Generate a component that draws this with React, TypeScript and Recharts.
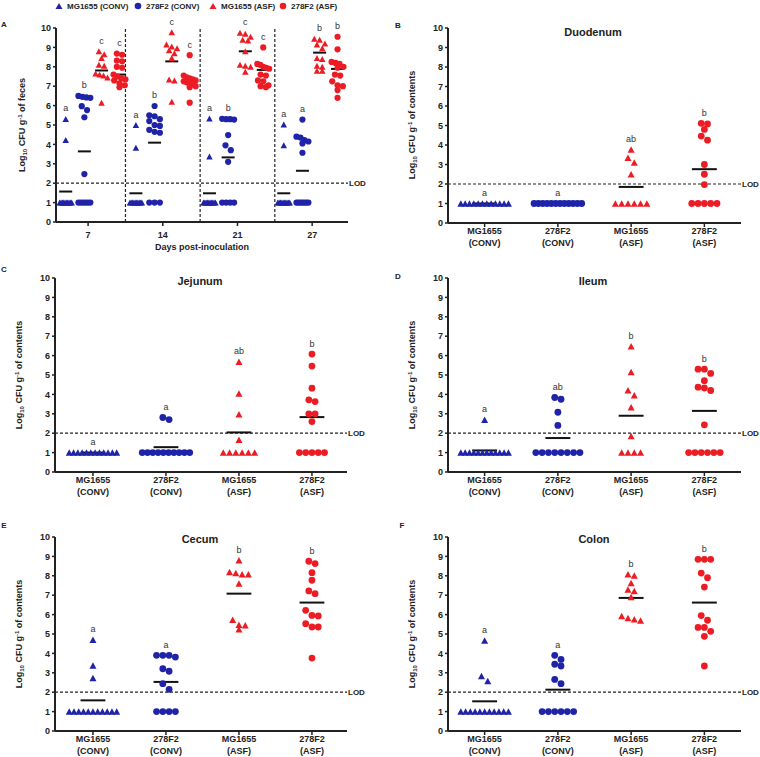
import React from 'react';
import { ScatterChart, Scatter, XAxis, YAxis, ReferenceLine } from 'recharts';

const BLUE = '#1f23a8';
const RED = '#ec1c24';
const INK = '#222';
const FONT = 'Arial, "Liberation Sans", Helvetica, sans-serif';

// ---------- labels ----------
const SERIES = ['MG1655 (CONV)', '278F2 (CONV)', 'MG1655 (ASF)', '278F2 (ASF)'];
const SERIES_COLOR = [BLUE, BLUE, RED, RED];
const SERIES_SHAPE = ['tri', 'circle', 'tri', 'circle'];
const CATEGORY_LINES = [['MG1655', '(CONV)'], ['278F2', '(CONV)'], ['MG1655', '(ASF)'], ['278F2', '(ASF)']];
const DAYS = ['7', '14', '21', '27'];
const Y_TICKS = [0, 1, 2, 3, 4, 5, 6, 7, 8, 9, 10];

// ---------- Panel A: feces, per day (7, 14, 21, 27) ----------
const feces_MG1655_CONV = [
  [5.31, 4.23, 1, 1, 1, 1, 1, 1, 1, 1, 1, 1],
  [5.0, 3.83, 1, 1, 1, 1, 1, 1, 1, 1, 1, 1],
  [5.34, 3.37, 1, 1, 1, 1, 1, 1, 1, 1, 1, 1],
  [5.03, 3.95, 1, 1, 1, 1, 1, 1, 1, 1, 1, 1],
];
const feces_278F2_CONV = [
  [6.5, 6.45, 6.42, 6.4, 5.97, 5.77, 5.4, 2.47, 1, 1, 1, 1, 1, 1],
  [5.98, 5.5, 5.45, 5.3, 5.2, 5.0, 4.95, 4.75, 4.65, 4.6, 1, 1, 1],
  [5.32, 5.3, 5.3, 5.28, 4.48, 3.95, 3.7, 3.1, 1, 1, 1, 1],
  [5.28, 4.4, 4.35, 4.22, 4.15, 4.05, 3.57, 1, 1, 1, 1, 1, 1, 1],
];
const feces_MG1655_ASF = [
  [8.8, 8.65, 8.45, 8.1, 8.05, 7.65, 7.6, 7.55, 7.45, 6.15],
  [9.78, 9.15, 9.05, 8.95, 8.85, 8.7, 8.45, 7.35, 7.3, 6.2],
  [9.75, 9.7, 9.55, 9.4, 9.35, 8.8, 8.1, 8.05, 8.0, 7.75],
  [9.45, 9.4, 9.2, 9.15, 8.95, 8.45, 8.4, 8.05, 8.0, 7.8, 7.8],
];
const feces_278F2_ASF = [
  [8.68, 8.62, 8.32, 8.28, 8.0, 7.95, 7.6, 7.5, 7.4, 7.35, 7.3, 7.15, 7.05, 6.95],
  [8.6, 7.55, 7.45, 7.4, 7.35, 7.3, 7.25, 7.2, 7.15, 7.1, 7.0, 6.95, 6.15],
  [9.0, 8.15, 8.1, 8.0, 7.95, 7.9, 7.6, 7.55, 7.3, 7.25, 7.05, 7.0, 6.95],
  [9.55, 8.9, 8.25, 8.2, 8.15, 8.0, 7.95, 7.6, 7.55, 7.25, 7.05, 7.0, 6.8, 6.4],
];
const feces_means = [
  [1.57, 1.48, 1.48, 1.48],
  [3.64, 4.09, 3.33, 2.64],
  [7.81, 8.28, 8.8, 8.73],
  [7.6, 7.23, 7.84, 7.89],
];
const feces_letters = [
  ['a', 'a', 'a', 'a'],
  ['b', 'b', 'b', 'a'],
  ['c', 'c', 'c', 'b'],
  ['c', 'c', 'c', 'b'],
];

// ---------- Panel B: duodenum ----------
const duodenum_MG1655_CONV = [1, 1, 1, 1, 1, 1, 1, 1, 1, 1, 1, 1];
const duodenum_278F2_CONV = [1, 1, 1, 1, 1, 1, 1, 1, 1, 1, 1, 1];
const duodenum_MG1655_ASF = [3.77, 3.35, 3.1, 2.5, 1, 1, 1, 1, 1, 1];
const duodenum_278F2_ASF = [5.11, 5.08, 4.8, 4.46, 4.25, 3.0, 2.5, 1.97, 1, 1, 1, 1, 1];
const duodenum_means = [1, 1, 1.85, 2.76];
const duodenum_letters = ['a', 'a', 'ab', 'b'];

// ---------- Panel C: jejunum ----------
const jejunum_MG1655_CONV = [1, 1, 1, 1, 1, 1, 1, 1, 1, 1, 1, 1];
const jejunum_278F2_CONV = [2.81, 2.7, 1, 1, 1, 1, 1, 1, 1, 1, 1, 1];
const jejunum_MG1655_ASF = [5.68, 4.04, 2.98, 1.66, 1, 1, 1, 1, 1, 1];
const jejunum_278F2_ASF = [6.08, 5.46, 4.32, 3.72, 3.63, 3.0, 3.0, 2.6, 1, 1, 1, 1, 1];
const jejunum_means = [1, 1.28, 2.04, 2.83];
const jejunum_letters = ['a', 'a', 'ab', 'b'];

// ---------- Panel D: ileum ----------
const ileum_MG1655_CONV = [2.69, 1, 1, 1, 1, 1, 1, 1, 1, 1, 1, 1, 1];
const ileum_278F2_CONV = [3.84, 3.75, 3.08, 2.4, 1, 1, 1, 1, 1, 1, 1, 1];
const ileum_MG1655_ASF = [6.48, 5.16, 4.22, 3.96, 3.34, 1.85, 1, 1, 1, 1];
const ileum_278F2_ASF = [5.3, 5.3, 5.08, 4.71, 4.37, 4.33, 4.2, 2.43, 1, 1, 1, 1, 1, 1];
const ileum_means = [1.11, 1.75, 2.9, 3.15];
const ileum_letters = ['a', 'ab', 'b', 'b'];

// ---------- Panel E: cecum ----------
const cecum_MG1655_CONV = [4.71, 3.38, 2.73, 1, 1, 1, 1, 1, 1, 1, 1, 1, 1, 1];
const cecum_278F2_CONV = [3.9, 3.9, 3.9, 3.81, 3.21, 3.08, 2.44, 2.15, 1, 1, 1, 1];
const cecum_MG1655_ASF = [8.8, 8.2, 8.14, 8.08, 8.08, 7.6, 5.74, 5.48, 5.45, 5.24];
const cecum_278F2_ASF = [8.75, 8.63, 8.16, 7.77, 7.22, 7.08, 6.22, 5.96, 5.93, 5.53, 5.36, 5.36, 3.76];
const cecum_means = [1.58, 2.53, 7.08, 6.62];
const cecum_letters = ['a', 'a', 'b', 'b'];

// ---------- Panel F: colon ----------
const colon_MG1655_CONV = [4.67, 2.84, 2.58, 1, 1, 1, 1, 1, 1, 1, 1, 1, 1, 1];
const colon_278F2_CONV = [3.9, 3.69, 3.44, 3.35, 2.66, 2.44, 1, 1, 1, 1, 1, 1];
const colon_MG1655_ASF = [8.08, 8.02, 7.63, 7.29, 7.22, 6.91, 5.93, 5.82, 5.76, 5.7];
const colon_278F2_ASF = [8.85, 8.85, 8.85, 8.14, 7.9, 7.42, 5.95, 5.71, 5.34, 5.34, 5.14, 4.88, 3.35];
const colon_means = [1.53, 2.13, 6.86, 6.62];
const colon_letters = ['a', 'a', 'b', 'b'];

// ---------- helpers ----------
type Group = { values: number[]; mean: number; letter: string; color: string; shape: string; center: number };

function spread(values: number[], center: number, bin: number, dx: number, maxW: number) {
  const sorted = [...values].sort((a, b) => b - a);
  const rows: number[][] = [];
  for (const v of sorted) {
    const row = rows[rows.length - 1];
    if (row && row[0] - v <= bin) row.push(v);
    else rows.push([v]);
  }
  const pts: { x: number; y: number }[] = [];
  for (const row of rows) {
    const n = row.length;
    const d = n > 1 ? Math.min(dx, maxW / (n - 1)) : 0;
    row.forEach((v, i) => pts.push({ x: center + (i - (n - 1) / 2) * d, y: v }));
  }
  return pts;
}

const makeShape = (kind: string, color: string, w: number, h: number, r: number) => (p: any) => {
  const { cx, cy } = p;
  if (cx == null || cy == null) return <g />;
  if (kind === 'tri') {
    return <polygon points={`${cx},${cy - h / 2} ${cx - w / 2},${cy + h / 2} ${cx + w / 2},${cy + h / 2}`} fill={color} />;
  }
  return <circle cx={cx} cy={cy} r={r} fill={color} />;
};

const LetterShape = (p: any) => {
  if (p.cx == null) return <g />;
  return (
    <text x={p.cx} y={p.cy - 7.5} textAnchor="middle" fontSize={9} fill="#333" fontFamily={FONT}>
      {p.payload.letter}
    </text>
  );
};

const CatTick = (props: any) => {
  const { x, y, payload } = props;
  const lines = CATEGORY_LINES[Math.round(payload.value) - 1];
  if (!lines) return <g />;
  return (
    <g>
      <text x={x} y={y + 5} textAnchor="middle" fontSize={9} fontWeight={700} fill={INK} fontFamily={FONT}>{lines[0]}</text>
      <text x={x} y={y + 17} textAnchor="middle" fontSize={9} fontWeight={700} fill={INK} fontFamily={FONT}>{lines[1]}</text>
    </g>
  );
};

const DayTick = (props: any) => {
  const { x, y, payload } = props;
  const label = DAYS[Math.round(payload.value) - 1];
  return (
    <text x={x} y={y + 9.5} textAnchor="middle" fontSize={9} fontWeight={700} fill={INK} fontFamily={FONT}>{label}</text>
  );
};

type Cfg = {
  left: number; top: number; width: number; height: number;
  pl: number; pt: number; pr: number; pb: number;
  domain: [number, number];
  dx: number; maxW: number; bin: number; meanHalf: number;
  triW: number; triH: number; r: number;
};

function Panel({ cfg, groups, tick, separators }: { cfg: Cfg; groups: Group[]; tick: any; separators?: number[] }) {
  const yAxisW = 30;
  const margin = { left: cfg.pl - yAxisW, top: cfg.pt, right: cfg.width - cfg.pr, bottom: 0 };
  const xAxisH = cfg.height - cfg.pb;
  const letterData = groups.map((g) => ({ x: g.center, y: Math.max(...g.values), letter: g.letter }));
  return (
    <div style={{ position: 'absolute', left: cfg.left, top: cfg.top, width: cfg.width, height: cfg.height }}>
      <ScatterChart width={cfg.width} height={cfg.height} margin={margin} style={{ overflow: 'visible' }}>
        <XAxis
          type="number" dataKey="x" domain={cfg.domain} ticks={[1, 2, 3, 4]} interval={0}
          height={xAxisH} tick={tick} tickSize={4} tickMargin={2}
          axisLine={{ stroke: INK, strokeWidth: 2 }} tickLine={{ stroke: INK, strokeWidth: 1.5 }}
        />
        <YAxis
          type="number" dataKey="y" domain={[0, 10]} ticks={Y_TICKS} interval={0} width={yAxisW}
          tickSize={3} tickMargin={2}
          tick={{ fontSize: 9, fontWeight: 700, fill: INK, fontFamily: FONT }}
          axisLine={{ stroke: INK, strokeWidth: 2 }} tickLine={{ stroke: INK, strokeWidth: 1.5 }}
        />
        <ReferenceLine
          y={2} stroke={INK} strokeWidth={1.2} strokeDasharray="3 2"
          label={{ value: 'LOD', position: 'right', offset: 1, fontSize: 8, fontWeight: 700, fill: INK, fontFamily: FONT }}
        />
        {(separators || []).map((s) => (
          <ReferenceLine key={'sep' + s} x={s} stroke={INK} strokeWidth={1.2} strokeDasharray="3 2" />
        ))}
        {groups.map((g, i) => (
          <ReferenceLine
            key={'mean' + i}
            segment={[{ x: g.center - cfg.meanHalf, y: g.mean }, { x: g.center + cfg.meanHalf, y: g.mean }]}
            stroke="#111" strokeWidth={2}
          />
        ))}
        {groups.map((g, i) => (
          <Scatter
            key={'g' + i}
            data={spread(g.values, g.center, cfg.bin, cfg.dx, cfg.maxW)}
            shape={makeShape(g.shape, g.color, cfg.triW, cfg.triH, cfg.r)}
            isAnimationActive={false}
          />
        ))}
        <Scatter data={letterData} shape={LetterShape} isAnimationActive={false} />
      </ScatterChart>
    </div>
  );
}

// ---------- group builders ----------
const A_OFFSETS = [-0.36, -0.11, 0.12, 0.36];
const A_DAY_SHIFT = [0.06, 0, -0.015, -0.02];
const fecesSeries = [feces_MG1655_CONV, feces_278F2_CONV, feces_MG1655_ASF, feces_278F2_ASF];
const groupsA: Group[] = [];
fecesSeries.forEach((ser, s) => {
  ser.forEach((vals, d) => {
    groupsA.push({
      values: vals, mean: feces_means[s][d], letter: feces_letters[s][d],
      color: SERIES_COLOR[s], shape: SERIES_SHAPE[s], center: d + 1 + A_OFFSETS[s] + A_DAY_SHIFT[d],
    });
  });
});

function organGroups(series: number[][], means: number[], letters: string[]): Group[] {
  return series.map((vals, s) => ({
    values: vals, mean: means[s], letter: letters[s], color: SERIES_COLOR[s], shape: SERIES_SHAPE[s], center: s + 1,
  }));
}

const groupsB = organGroups([duodenum_MG1655_CONV, duodenum_278F2_CONV, duodenum_MG1655_ASF, duodenum_278F2_ASF], duodenum_means, duodenum_letters);
const groupsC = organGroups([jejunum_MG1655_CONV, jejunum_278F2_CONV, jejunum_MG1655_ASF, jejunum_278F2_ASF], jejunum_means, jejunum_letters);
const groupsD = organGroups([ileum_MG1655_CONV, ileum_278F2_CONV, ileum_MG1655_ASF, ileum_278F2_ASF], ileum_means, ileum_letters);
const groupsE = organGroups([cecum_MG1655_CONV, cecum_278F2_CONV, cecum_MG1655_ASF, cecum_278F2_ASF], cecum_means, cecum_letters);
const groupsF = organGroups([colon_MG1655_CONV, colon_278F2_CONV, colon_MG1655_ASF, colon_278F2_ASF], colon_means, colon_letters);

const organStyle = { dx: 0.086, maxW: 0.65, bin: 0.3, meanHalf: 0.17, triW: 7, triH: 6.5, r: 3.4 };
const cfgA: Cfg = { left: 0, top: 0, width: 380, height: 260, pl: 56, pt: 28, pr: 348, pb: 222, domain: [0.57, 4.48], dx: 0.071, maxW: 0.16, bin: 0.25, meanHalf: 0.087, triW: 6.5, triH: 6, r: 3.1 };
const cfgB: Cfg = { left: 380, top: 0, width: 380, height: 258, pl: 68, pt: 28, pr: 361, pb: 223, domain: [0.5, 4.5], ...organStyle };
const cfgC: Cfg = { left: 0, top: 255, width: 380, height: 250, pl: 55, pt: 23, pr: 347, pb: 217, domain: [0.48, 4.48], ...organStyle };
const cfgD: Cfg = { left: 380, top: 255, width: 380, height: 250, pl: 68, pt: 23, pr: 361, pb: 217, domain: [0.5, 4.5], ...organStyle };
const cfgE: Cfg = { left: 0, top: 500, width: 380, height: 257, pl: 55, pt: 37, pr: 347, pb: 231, domain: [0.48, 4.48], ...organStyle };
const cfgF: Cfg = { left: 380, top: 500, width: 380, height: 257, pl: 68, pt: 37, pr: 361, pb: 231, domain: [0.5, 4.5], ...organStyle };

// ---------- overlay texts ----------
const YLabel = ({ x, y, tail }: { x: number; y: number; tail: string }) => (
  <text transform={`rotate(-90 ${x} ${y})`} x={x} y={y + 3} textAnchor="middle" fontSize={9} fontWeight={700} fill={INK}>
    Log<tspan fontSize={6} dy={2}>10</tspan>
    <tspan dy={-2}> CFU g</tspan>
    <tspan fontSize={6} dy={-3}>-1</tspan>
    <tspan dy={3}>{' of ' + tail}</tspan>
  </text>
);

const Title = ({ x, y, text }: { x: number; y: number; text: string }) => (
  <text x={x} y={y + 4} textAnchor="middle" fontSize={11} fontWeight={700} fill={INK}>{text}</text>
);

const PanelLetter = ({ x, y, text }: { x: number; y: number; text: string }) => (
  <text x={x} y={y + 3} textAnchor="middle" fontSize={8} fontWeight={700} fill={INK}>{text}</text>
);

const LEGEND_POS = [59, 138, 213, 283];

export default function App() {
  return (
    <div style={{ position: 'absolute', left: 0, top: 0, width: 760, height: 757, background: '#fff', fontFamily: FONT, overflow: 'hidden' }}>
      <Panel cfg={cfgA} groups={groupsA} tick={DayTick} separators={[1.5, 2.5, 3.5]} />
      <Panel cfg={cfgB} groups={groupsB} tick={CatTick} />
      <Panel cfg={cfgC} groups={groupsC} tick={CatTick} />
      <Panel cfg={cfgD} groups={groupsD} tick={CatTick} />
      <Panel cfg={cfgE} groups={groupsE} tick={CatTick} />
      <Panel cfg={cfgF} groups={groupsF} tick={CatTick} />
      <svg width={760} height={757} style={{ position: 'absolute', left: 0, top: 0, pointerEvents: 'none', fontFamily: FONT }}>
        {SERIES.map((s, i) => {
          const x = LEGEND_POS[i];
          const y = 6;
          return (
            <g key={s}>
              {SERIES_SHAPE[i] === 'tri'
                ? <polygon points={`${x},${y - 3} ${x - 3.5},${y + 3} ${x + 3.5},${y + 3}`} fill={SERIES_COLOR[i]} />
                : <circle cx={x} cy={y} r={3.3} fill={SERIES_COLOR[i]} />}
              <text x={x + 8} y={y + 3} fontSize={8} fontWeight={700} fill={INK}>{s}</text>
            </g>
          );
        })}
        <PanelLetter x={4} y={24} text="A" />
        <PanelLetter x={398} y={25} text="B" />
        <PanelLetter x={4} y={269} text="C" />
        <PanelLetter x={398} y={276} text="D" />
        <PanelLetter x={4} y={525} text="E" />
        <PanelLetter x={402} y={525} text="F" />
        <Title x={593} y={32} text="Duodenum" />
        <Title x={200} y={281} text="Jejunum" />
        <Title x={593} y={281} text="Ileum" />
        <Title x={200} y={539} text="Cecum" />
        <Title x={594} y={539} text="Colon" />
        <YLabel x={22} y={125} tail="feces" />
        <YLabel x={412} y={125} tail="contents" />
        <YLabel x={19} y={375} tail="contents" />
        <YLabel x={412} y={375} tail="contents" />
        <YLabel x={19} y={634} tail="contents" />
        <YLabel x={412} y={634} tail="contents" />
        <text x={202} y={250} textAnchor="middle" fontSize={9} fontWeight={700} fill={INK}>Days post-inoculation</text>
      </svg>
    </div>
  );
}
